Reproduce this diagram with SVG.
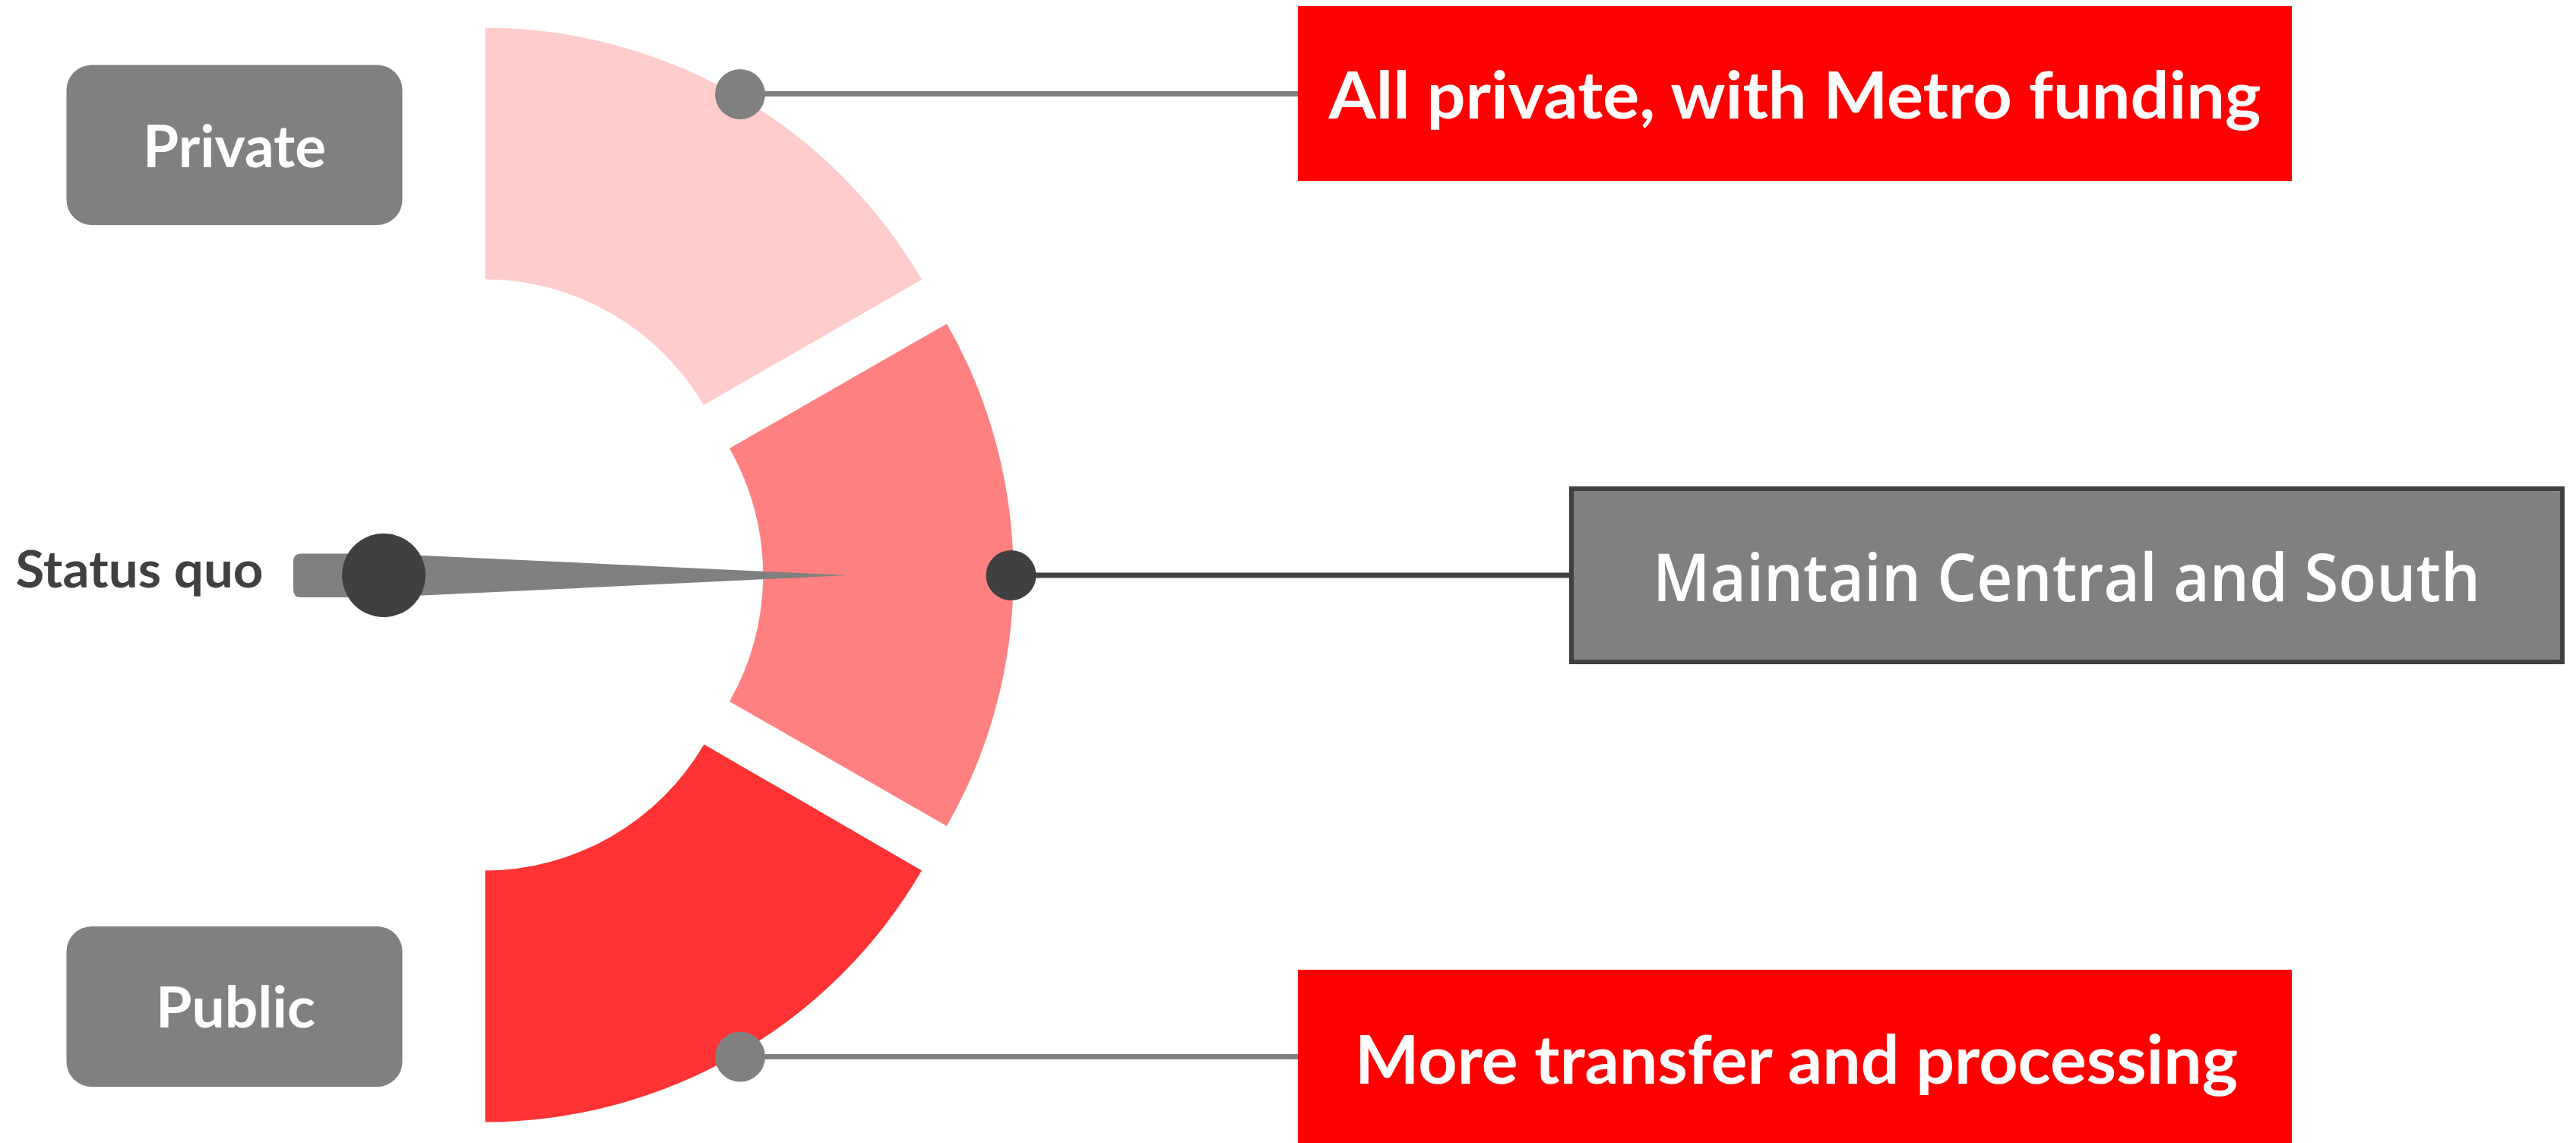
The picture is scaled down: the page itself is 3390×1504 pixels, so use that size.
<svg xmlns="http://www.w3.org/2000/svg" width="3390" height="1504" viewBox="0 0 3390 1504">
  <style>
    .lbl { font-family: Lato, "Open Sans", "Liberation Sans", sans-serif; fill: #ffffff; }
    .b { font-weight: 700; }
    .mid { font-family: "Open Sans", Lato, "Liberation Sans", sans-serif; font-weight: 600; }
    .tag { fill: #808080; }
    .red { fill: #ff0000; }
    .wire { fill: none; stroke-width: 7; }
    .grey { stroke: #808080; }
    .dark { stroke: #404040; }
  </style>
  <rect x="0" y="0" width="3390" height="1504" fill="#ffffff"/>

  <!-- gauge segments -->
  <g id="seg-private">
    <path d="M 638.5 36.5 A 666.5 666.5 0 0 1 1213 368 L 926 533 A 335.5 335.5 0 0 0 638.5 367.5 Z" fill="#ffcccc"/>
  </g>
  <g id="seg-middle">
    <path d="M 1246 426 A 666.5 666.5 0 0 1 1246 1087 L 960 923 A 335.5 335.5 0 0 0 960 590 Z" fill="#ff8080"/>
  </g>
  <g id="seg-public">
    <path d="M 638.5 1476.5 A 666.5 666.5 0 0 0 1213 1145.5 L 926.5 979.5 A 335.5 335.5 0 0 1 638.5 1145.5 Z" fill="#ff3333"/>
  </g>

  <!-- connectors -->
  <g id="connectors">
    <line class="wire grey" x1="974" y1="123.5" x2="1708" y2="123.5"/>
    <line class="wire dark" x1="1330" y1="757" x2="2066" y2="757"/>
    <line class="wire grey" x1="974" y1="1390.5" x2="1708" y2="1390.5"/>
    <circle cx="974" cy="124" r="33" fill="#808080"/>
    <circle cx="1330.5" cy="757" r="33" fill="#404040"/>
    <circle cx="974" cy="1390.5" r="33" fill="#808080"/>
  </g>

  <!-- needle -->
  <g id="needle">
    <path d="M 396 728.5 L 505 728.5 L 1115 757 L 505 786 L 396 786 Q 386 786 386 776 L 386 738.5 Q 386 728.5 396 728.5 Z" fill="#808080"/>
    <circle cx="505" cy="757" r="55" fill="#404040"/>
  </g>
  <g id="status-quo">
    <text x="20.5" y="772.5" class="b" font-family="Lato, 'Open Sans', 'Liberation Sans', sans-serif" font-size="67" fill="#404040" textLength="326" lengthAdjust="spacingAndGlyphs">Status quo</text>
  </g>

  <!-- left labels -->
  <g id="private">
    <rect class="tag" x="87.5" y="85.5" width="442" height="210.5" rx="33" ry="33"/>
    <text class="lbl b" x="308.5" y="219.5" font-size="76" text-anchor="middle" textLength="241" lengthAdjust="spacingAndGlyphs">Private</text>
  </g>
  <g id="public">
    <rect class="tag" x="87.5" y="1219" width="442" height="211" rx="33" ry="33"/>
    <text class="lbl b" x="310" y="1351.5" font-size="74" text-anchor="middle" textLength="210" lengthAdjust="spacingAndGlyphs">Public</text>
  </g>

  <!-- right boxes -->
  <g id="all-private">
    <rect class="red" x="1708" y="8" width="1308" height="230"/>
    <text class="lbl b" x="2362" y="156" font-size="87" text-anchor="middle" textLength="1227" lengthAdjust="spacingAndGlyphs">All private, with Metro funding</text>
  </g>
  <g id="maintain">
    <rect x="2068" y="643" width="1304" height="228" fill="#808080" stroke="#404040" stroke-width="6"/>
    <text class="lbl mid" x="2719.5" y="791" font-size="86" text-anchor="middle" textLength="1089" lengthAdjust="spacingAndGlyphs">Maintain Central and South</text>
  </g>
  <g id="more-transfer">
    <rect class="red" x="1708" y="1276" width="1308" height="232"/>
    <text class="lbl b" x="2364" y="1426" font-size="88" text-anchor="middle" textLength="1162" lengthAdjust="spacingAndGlyphs">More transfer and processing</text>
  </g>
</svg>
